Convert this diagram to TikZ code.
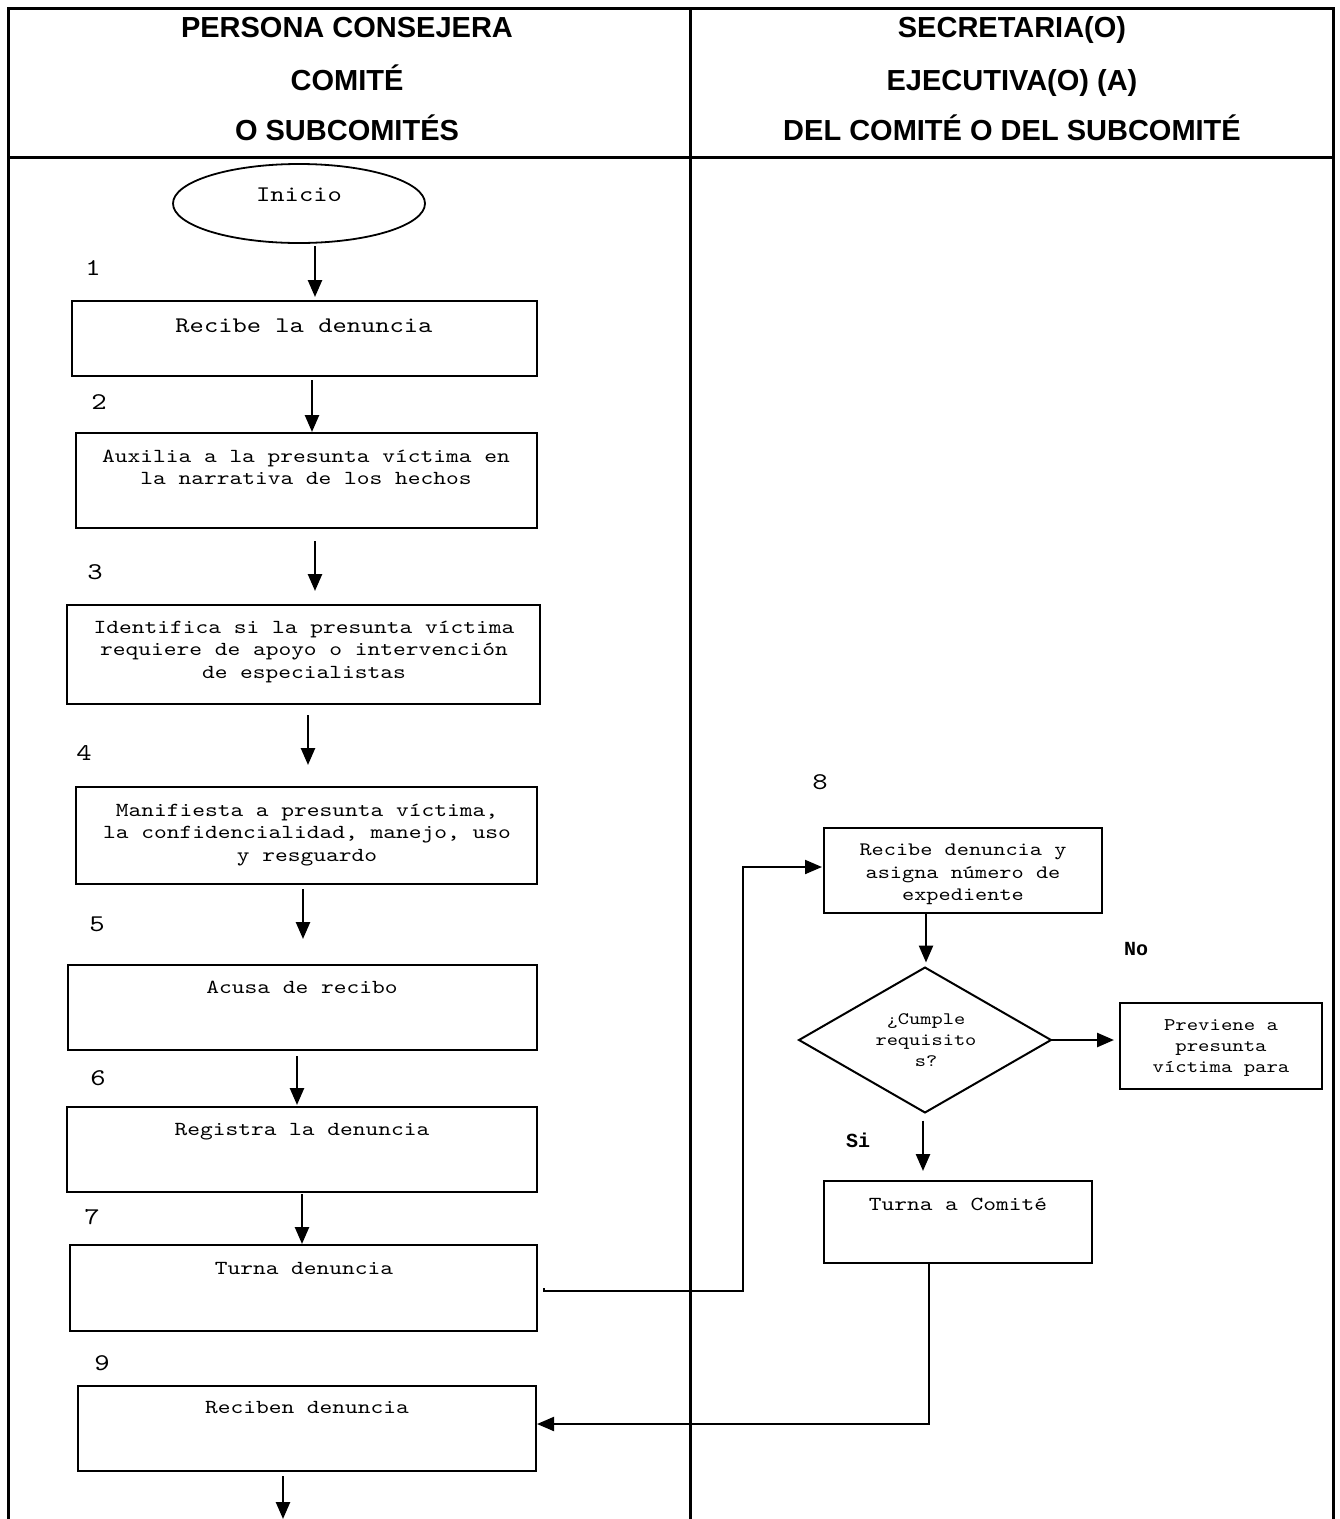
\documentclass[tikz,border=0pt]{standalone}
\usepackage{fontspec}
\setmainfont{Liberation Sans}
\newfontfamily\monof{lmmono10-regular.otf}[FakeStretch=1.22]
\newfontfamily\monob{Liberation Mono}
\usetikzlibrary{arrows.meta,shapes.geometric,calc}
\begin{document}
\begin{tikzpicture}[x=1pt,y=-1pt,
  frame/.style={line width=3pt},
  box/.style={draw, line width=2pt, rectangle, inner sep=0pt, outer sep=0pt},
  arr/.style={line width=2.5pt, -{Triangle[length=17pt,width=14pt]}},
  conn/.style={line width=2pt, -{Triangle[length=17pt,width=14pt]}},
  hdr/.style={font=\fontsize{29}{34}\selectfont\bfseries, inner sep=0pt, anchor=base},
  txt/.style={font=\monof\fontsize{19.9}{22.5}\selectfont, align=center, inner sep=0pt},
  bigtxt/.style={font=\monof\fontsize{22.3}{25}\selectfont, inner sep=0pt, anchor=base},
  smalltxt/.style={font=\monof\fontsize{17.8}{21}\selectfont, align=center, inner sep=0pt, anchor=north},
  num/.style={font=\monof\fontsize{24}{24}\selectfont, inner sep=0pt, anchor=base},
  lbl/.style={font=\monob\bfseries\fontsize{20}{20}\selectfont, inner sep=0pt, anchor=base}
]
\useasboundingbox (0,0) rectangle (1340,1519);
% frame
\draw[frame] (8,1519) -- (8,8) -- (1333,8) -- (1333,1519);
\draw[frame] (8,157) -- (1333,157);
\draw[frame] (690,8) -- (690,1519);
% headers
\node[hdr] (h1) at (347,37.4) {PERSONA CONSEJERA};
\node[hdr] (h2) at (347,90.4) {COMITÉ};
\node[hdr] (h3) at (347,140.4) {O SUBCOMITÉS};
\node[hdr] (h4) at (1012,37.4) {SECRETARIA(O)};
\node[hdr] (h5) at (1012,90.4) {EJECUTIVA(O) (A)};
\node[hdr] (h6) at (1012,140.4) {DEL COMITÉ O DEL SUBCOMITÉ};
% shapes
\node[ellipse, draw, line width=1.8pt, minimum width=252pt, minimum height=79pt, inner sep=0pt, outer sep=0pt] (ini) at (299,203.5) {};
\node[bigtxt] (tini) at (299,201.7) {Inicio};
\node[box, minimum width=465pt, minimum height=75pt] (b1) at (304.5,338.5) {};
\node[box, minimum width=461pt, minimum height=95pt] (b2) at (306.5,480.5) {};
\node[box, minimum width=473pt, minimum height=99pt] (b3) at (303.5,654.5) {};
\node[box, minimum width=461pt, minimum height=97pt] (b4) at (306.5,835.5) {};
\node[box, minimum width=469pt, minimum height=85pt] (b5) at (302.5,1007.5) {};
\node[box, minimum width=470pt, minimum height=85pt] (b6) at (302,1149.5) {};
\node[box, minimum width=467pt, minimum height=86pt] (b7) at (303.5,1288) {};
\node[box, minimum width=458pt, minimum height=85pt] (b9) at (307,1428.5) {};
\node[box, minimum width=278pt, minimum height=85pt] (b8) at (963,870.5) {};
\node[box, minimum width=202pt, minimum height=86pt] (bp) at (1221,1046) {};
\node[box, minimum width=268pt, minimum height=82pt] (bt) at (958,1222) {};
\node[diamond, draw, line width=2pt, minimum width=252pt, minimum height=145pt, inner sep=0pt, outer sep=0pt] (d) at (925,1040) {};
% texts
\node[bigtxt] (t1) at (304,332.7) {Recibe la denuncia};
\node[txt, anchor=north] (t2) at (306,449.7) {Auxilia a la presunta víctima en\\la narrativa de los hechos};
\node[txt, anchor=north] (t3) at (304,620.7) {Identifica si la presunta víctima\\requiere de apoyo o intervención\\de especialistas};
\node[txt, anchor=north] (t4) at (307,803.7) {Manifiesta a presunta víctima,\\la confidencialidad, manejo, uso\\y resguardo};
\node[txt, anchor=base] (t5) at (302,993) {Acusa de recibo};
\node[txt, anchor=base] (t6) at (302,1135) {Registra la denuncia};
\node[txt, anchor=base] (t7) at (304,1274) {Turna denuncia};
\node[txt, anchor=base] (t9) at (307,1413) {Reciben denuncia};
\node[txt, anchor=north, font=\monof\fontsize{19}{22.5}\selectfont] (t8) at (963,844.1) {Recibe denuncia y\\asigna número de\\expediente};
\node[smalltxt, font=\monof\fontsize{17.5}{21}\selectfont] (td) at (926,1013.6) {¿Cumple\\requisito\\s?};
\node[smalltxt] (tp) at (1221,1019.5) {Previene a\\presunta\\víctima para};
\node[txt, anchor=base] (tt) at (958,1210) {Turna a Comité};
% numbers
\node[num] (n1) at (93,275.5) {1};
\node[num] (n2) at (99,409.5) {2};
\node[num] (n3) at (95,579.5) {3};
\node[num] (n4) at (84,760.5) {4};
\node[num] (n5) at (97,931.5) {5};
\node[num] (n6) at (98,1085.5) {6};
\node[num] (n7) at (92,1224.5) {7};
\node[num] (n8) at (820,789.5) {8};
\node[num] (n9) at (102,1370.5) {9};
\node[lbl] (lno) at (1136,955.8) {No};
\node[lbl] (lsi) at (858,1147.8) {Si};
% arrows
\draw[arr] ($(ini.south)+(16,3)$) -- ($(b1.north)+(10.5,-4)$);
\draw[arr] ($(b1.south)+(7.5,4)$) -- ($(b2.north)+(5.5,-1)$);
\draw[arr] ($(b2.south)+(8.5,13)$) -- ($(b3.north)+(11.5,-14)$);
\draw[arr] ($(b3.south)+(4.5,11)$) -- ($(b4.north)+(1.5,-22)$);
\draw[arr] ($(b4.south)+(-3.5,5)$) -- ($(b5.north)+(0.5,-26)$);
\draw[arr] ($(b5.south)+(-5.5,6)$) -- ($(b6.north)+(-5,-2)$);
\draw[arr] ($(b6.south)+(0,2)$) -- ($(b7.north)+(-1.5,-1)$);
\draw[arr] ($(b8.south)+(-37,0)$) -- ($(d.north)+(1,-5)$);
\draw[arr] ($(d.south)+(-2,8)$) -- ($(bt.north)+(-35,-10)$);
\draw[arr] (d.east) -- ($(bp.west)+(-6,-6)$);
\draw[conn] ($(b7.east)+(7,0)$) -- ++(0,3) -- ++(199,0) |- ($(b8.west)+(-2,-3.5)$);
\draw[conn] ($(bt.south)+(-29,0)$) |- ($(b9.east)+(1,-4.5)$);
\coordinate (endp) at (283,1519);
\draw[arr] ($(b9.south)+(-24,5)$) -- (endp);
\end{tikzpicture}
\end{document}
